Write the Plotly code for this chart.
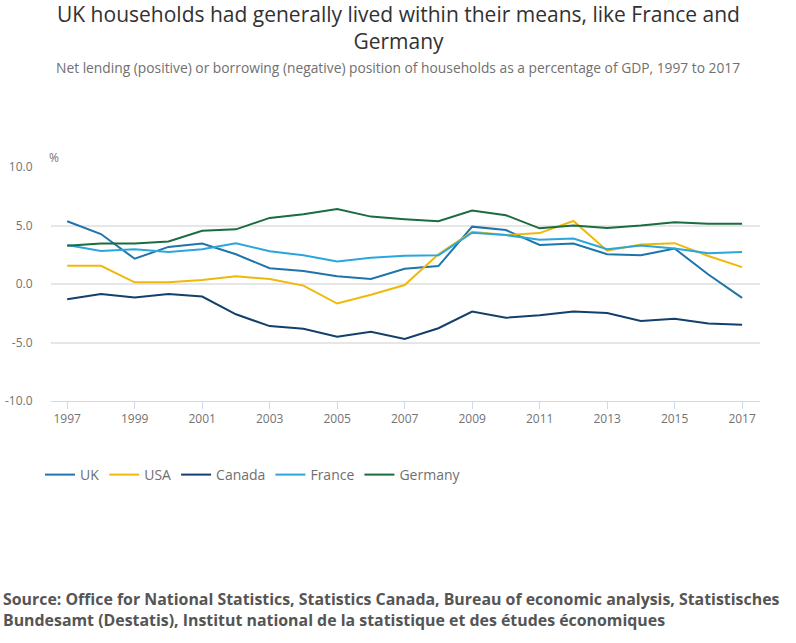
import plotly.graph_objects as go

years = list(range(1997, 2018))
uk = [5.36, 4.27, 2.16, 3.17, 3.46, 2.54, 1.35, 1.12, 0.66, 0.43, 1.30, 1.53, 4.90, 4.61, 3.34, 3.46, 2.54, 2.45, 3.03, 0.81, -1.18]
usa = [1.56, 1.56, 0.14, 0.14, 0.35, 0.66, 0.43, -0.14, -1.67, -0.92, -0.09, 2.54, 4.47, 4.18, 4.35, 5.39, 2.85, 3.37, 3.49, 2.39, 1.44]
canada = [-1.30, -0.86, -1.15, -0.86, -1.07, -2.59, -3.60, -3.83, -4.50, -4.09, -4.70, -3.78, -2.36, -2.88, -2.68, -2.36, -2.48, -3.17, -2.97, -3.37, -3.49]
france = [3.34, 2.82, 2.97, 2.74, 2.97, 3.49, 2.80, 2.45, 1.93, 2.25, 2.42, 2.45, 4.38, 4.18, 3.78, 3.89, 2.97, 3.29, 3.03, 2.62, 2.74]
germany = [3.26, 3.46, 3.46, 3.63, 4.55, 4.67, 5.65, 5.97, 6.40, 5.76, 5.53, 5.36, 6.28, 5.88, 4.76, 4.99, 4.78, 4.99, 5.27, 5.16, 5.16]

series = [
    ("UK", uk, "#1f74ab"),
    ("USA", usa, "#efb90a"),
    ("Canada", canada, "#123f6b"),
    ("France", france, "#2aa6de"),
    ("Germany", germany, "#1b6c3e"),
]

y_ticks = [10, 5, 0, -5, -10]
y_tick_text = ["10.0", "5.0", "0.0", "-5.0", "-10.0"]
x_ticks = list(range(1997, 2018, 2))

fig = go.Figure()
for name, vals, color in series:
    fig.add_trace(go.Scatter(x=years, y=vals, name=name, mode="lines",
                             line=dict(color=color, width=2)))

plot_top, plot_bottom, plot_left, plot_right = 167, 401, 51, 760
ph = plot_bottom - plot_top
pw = plot_right - plot_left

def py(pix):
    return (plot_bottom - pix) / ph

def px(pix):
    return (pix - plot_left) / pw

font_family = "Open Sans"
fig.update_layout(
    width=796, height=643,
    margin=dict(l=51, r=36, t=167, b=242, autoexpand=False),
    paper_bgcolor="white", plot_bgcolor="white",
    font=dict(family=font_family, color="#707070"),
    showlegend=True,
    legend=dict(orientation="h", x=px(40), xanchor="left", y=py(475), yanchor="middle",
                font=dict(size=14, color="#6f6f6f"), itemwidth=30, tracegroupgap=0),
    xaxis=dict(range=[1996.52, 2017.53], tickvals=x_ticks, ticktext=[str(v) for v in x_ticks],
               showgrid=False, zeroline=False, showline=True, linecolor="#cdd9ee", linewidth=1,
               ticks="outside", ticklen=7, tickcolor="#cdd9ee", tickwidth=1, automargin=False,
               tickfont=dict(size=12, color="#737373")),
    yaxis=dict(range=[-10, 10], tickvals=y_ticks, ticktext=y_tick_text,
               showgrid=True, gridcolor="#e6e6e6", gridwidth=1.5, zeroline=False,
               ticks="outside", ticklen=15, tickcolor="rgba(0,0,0,0)", automargin=False,
               tickfont=dict(size=12, color="#737373")),
    annotations=[
        dict(text="UK households had generally lived within their means, like France and<br>Germany",
             xref="paper", yref="paper", x=px(398), y=py(28), xanchor="center", yanchor="middle",
             showarrow=False, font=dict(size=21, color="#323132"), align="center"),
        dict(text="Net lending (positive) or borrowing (negative) position of households as a percentage of GDP, 1997 to 2017",
             xref="paper", yref="paper", x=px(398), y=py(68), xanchor="center", yanchor="middle",
             showarrow=False, font=dict(size=13.8, color="#707070")),
        dict(text="%", xref="paper", yref="paper", x=px(47), y=py(158), xanchor="left", yanchor="middle",
             showarrow=False, font=dict(size=12, color="#737373")),
        dict(text="<b>Source: Office for National Statistics, Statistics Canada, Bureau of economic analysis, Statistisches<br>Bundesamt (Destatis), Institut national de la statistique et des études économiques</b>",
             xref="paper", yref="paper", x=px(1), y=py(609), xanchor="left", yanchor="middle",
             showarrow=False, align="left", font=dict(size=15.9, color="#555555")),
    ],
)

fig.write_html("out.html")
